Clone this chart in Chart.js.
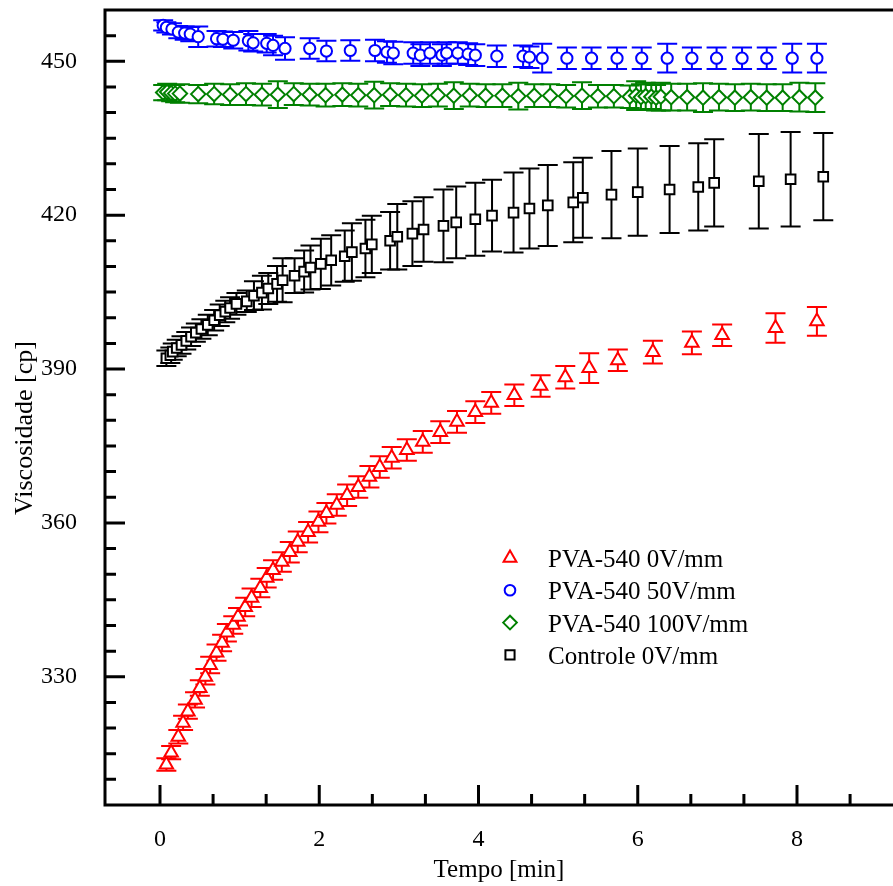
<!DOCTYPE html>
<html>
<head>
<meta charset="utf-8">
<script src="https://cdn.jsdelivr.net/npm/chart.js@4/dist/chart.umd.min.js"></script>
<style>
html,body{margin:0;padding:0;background:#fff;}
#wrap{width:893px;height:886px;position:relative;overflow:hidden;}
</style>
</head>
<body>
<div id="wrap"><canvas id="c" width="893" height="886"></canvas></div>
<script>
// ---------------- data ----------------
const seriesLabels = ['PVA-540 0V/mm', 'PVA-540 50V/mm', 'PVA-540 100V/mm', 'Controle 0V/mm'];
const xTitle = 'Tempo [min]';
const yTitle = 'Viscosidade [cp]';

const redX = [0.08,0.14,0.23,0.29,0.35,0.44,0.50,0.57,0.63,0.71,0.78,0.84,0.92,0.98,1.07,1.15,1.26,1.34,1.42,1.53,1.63,1.73,1.86,1.99,2.09,2.22,2.35,2.49,2.63,2.76,2.91,3.10,3.30,3.52,3.73,3.96,4.16,4.45,4.78,5.09,5.39,5.75,6.19,6.68,7.06,7.73,8.25];
const redY = [312.9,315.2,318.3,321.0,323.2,325.5,327.8,330.0,332.3,334.7,336.6,338.6,340.1,341.7,343.6,345.4,347.3,349.3,350.8,352.4,354.3,356.3,358.2,360.2,361.9,363.5,365.4,367.0,369.0,370.9,372.7,374.2,375.8,377.7,379.7,381.6,383.4,384.9,386.7,388.4,390.2,391.7,393.3,395.1,396.6,398.0,399.3];
const redErr = [1.2,1.3,1.3,1.4,1.4,1.5,1.5,1.5,1.6,1.6,1.6,1.7,1.7,1.7,1.8,1.8,1.8,1.9,1.9,1.9,2.0,2.0,2.0,2.0,2.0,2.1,2.1,2.1,2.1,2.1,2.1,2.1,2.1,2.1,2.1,2.1,2.1,2.1,2.1,2.2,2.9,2.1,2.2,2.2,2.1,2.9,2.8];

const blueX = [0.04,0.08,0.15,0.23,0.31,0.38,0.48,0.71,0.79,0.92,1.11,1.17,1.34,1.42,1.57,1.88,2.09,2.39,2.70,2.85,2.93,3.18,3.27,3.39,3.54,3.60,3.74,3.87,3.96,4.23,4.56,4.64,4.80,5.11,5.42,5.74,6.05,6.37,6.68,6.99,7.31,7.62,7.94,8.25];
const blueY = [457.0,456.6,456.3,455.7,455.5,455.3,454.8,454.4,454.3,454.1,454.0,453.6,453.5,453.1,452.5,452.5,452.0,452.1,452.1,451.8,451.6,451.6,451.2,451.6,451.2,451.6,451.6,451.4,451.2,451.0,451.0,450.8,450.6,450.6,450.6,450.6,450.6,450.6,450.6,450.6,450.6,450.6,450.6,450.6];
const blueErr = [1.0,1.0,1.1,1.2,1.3,1.4,2.0,1.5,1.5,1.6,1.9,1.7,1.8,1.9,2.2,2.0,2.0,2.0,2.1,2.1,2.2,2.1,2.1,2.1,2.1,2.1,2.1,2.1,2.1,2.1,2.1,2.1,2.8,2.1,2.1,2.1,2.1,2.8,2.1,2.1,2.1,2.1,2.8,2.8];

const greenX = [0.04,0.09,0.14,0.19,0.25,0.48,0.68,0.88,1.08,1.28,1.48,1.68,1.88,2.08,2.29,2.49,2.69,2.89,3.09,3.29,3.49,3.69,3.89,4.09,4.30,4.50,4.70,4.90,5.10,5.30,5.50,5.70,5.90,5.98,6.04,6.10,6.17,6.23,6.29,6.42,6.62,6.82,7.02,7.22,7.42,7.62,7.82,8.03,8.23];
const greenY = [443.9,444.0,443.8,443.7,443.7,443.6,443.6,443.5,443.6,443.5,443.5,443.6,443.5,443.4,443.5,443.4,443.4,443.5,443.4,443.3,443.4,443.3,443.4,443.3,443.3,443.2,443.3,443.3,443.2,443.3,443.2,443.2,443.1,443.3,443.0,443.2,443.1,442.9,443.1,443.0,443.0,442.9,443.0,442.9,443.0,442.9,442.9,443.0,442.9];
const greenErr = [1.5,1.6,1.6,1.7,1.8,1.8,2.0,2.0,2.1,2.1,2.6,2.1,2.1,2.2,2.2,2.2,2.6,2.2,2.2,2.2,2.2,2.6,2.2,2.2,2.2,2.6,2.2,2.2,2.2,2.6,2.2,2.2,2.2,2.8,2.5,2.6,2.4,2.5,2.7,2.6,2.6,2.8,2.6,2.6,2.6,2.6,2.6,2.8,2.8];

const blackX = [0.08,0.13,0.16,0.21,0.27,0.33,0.39,0.45,0.52,0.60,0.68,0.75,0.82,0.88,0.96,1.09,1.18,1.28,1.36,1.47,1.54,1.69,1.81,1.89,2.02,2.15,2.32,2.41,2.58,2.66,2.89,2.98,3.17,3.31,3.56,3.72,3.96,4.17,4.44,4.64,4.87,5.19,5.31,5.67,6.00,6.40,6.76,6.96,7.52,7.92,8.33];
const blackY = [392.1,392.7,393.4,394.1,394.7,395.5,396.3,397.1,397.8,398.6,399.5,400.5,401.2,401.9,402.7,403.2,404.3,404.9,405.7,406.6,407.3,408.2,409.0,409.8,410.5,411.2,412.0,412.8,413.5,414.3,415.0,415.8,416.4,417.2,417.9,418.6,419.2,419.9,420.5,421.3,421.9,422.5,423.4,424.0,424.5,425.0,425.5,426.3,426.6,427.0,427.5];
const blackErr = [1.5,1.5,1.6,1.6,1.7,1.7,1.8,1.8,1.9,2.0,2.0,2.1,2.1,2.1,2.1,2.1,2.8,3.3,3.0,3.5,4.3,3.4,4.1,4.3,4.9,4.9,5.0,5.6,5.6,5.6,5.6,6.4,6.3,6.3,7.1,7.0,7.1,7.0,7.8,7.8,7.9,7.8,7.8,8.5,8.5,8.5,8.5,8.5,9.2,9.2,8.5];

const xTickLabels = [0, 2, 4, 6, 8];
const yTickLabels = [330, 360, 390, 420, 450];
const xMinorStep = 2 / 3;
const yMinorStep = 5;

// ---------------- chart ----------------
const FONT = '"Liberation Serif", "Times New Roman", Times, serif';
Chart.defaults.font.family = FONT;
Chart.defaults.color = '#000';

function pts(xs, ys) { return xs.map((x, i) => ({ x: x, y: ys[i] })); }

function mkSet(label, xs, ys, errs, color, style, radius) {
  return {
    label: label, data: pts(xs, ys), errorBars: errs,
    pointStyle: style, pointRadius: radius, pointHoverRadius: radius,
    borderColor: color, backgroundColor: '#ffffff', pointBorderWidth: 2,
    borderWidth: 2, showLine: false
  };
}

const datasets = [
  mkSet(seriesLabels[0], redX, redY, redErr, '#ff0000', 'triangle', 7.8),
  mkSet(seriesLabels[1], blueX, blueY, blueErr, '#0000ff', 'circle', 5.6),
  mkSet(seriesLabels[2], greenX, greenY, greenErr, '#008000', 'rectRot', 7.2),
  mkSet(seriesLabels[3], blackX, blackY, blackErr, '#000000', 'rect', 6.8)
];

const errorBarPlugin = {
  id: 'errorBars',
  beforeDatasetsDraw(chart) {
    const ctx = chart.ctx, xs = chart.scales.x, ys = chart.scales.y;
    ctx.save();
    ctx.lineWidth = 2;
    chart.data.datasets.forEach(ds => {
      ctx.strokeStyle = ds.borderColor;
      ds.data.forEach((p, j) => {
        const e = ds.errorBars[j];
        const px = xs.getPixelForValue(p.x);
        const yT = ys.getPixelForValue(p.y + e);
        const yB = ys.getPixelForValue(p.y - e);
        ctx.beginPath();
        ctx.moveTo(px, yT); ctx.lineTo(px, yB);
        ctx.moveTo(px - 10, yT); ctx.lineTo(px + 10, yT);
        ctx.moveTo(px - 10, yB); ctx.lineTo(px + 10, yB);
        ctx.stroke();
      });
    });
    ctx.restore();
  }
};

const frameAxesPlugin = {
  id: 'frameAxes',
  afterDatasetsDraw(chart) {
    const ctx = chart.ctx, a = chart.chartArea, xs = chart.scales.x, ys = chart.scales.y;
    ctx.save();
    ctx.strokeStyle = '#000';
    ctx.lineWidth = 3;
    ctx.lineCap = 'butt';
    ctx.beginPath();
    ctx.moveTo(a.left, a.top - 1.5); ctx.lineTo(a.left, a.bottom + 1.5);
    ctx.moveTo(a.left - 1.5, a.bottom); ctx.lineTo(a.right, a.bottom);
    ctx.moveTo(a.left - 1.5, a.top); ctx.lineTo(a.right, a.top);
    ctx.stroke();
    // x ticks (inward)
    ctx.beginPath();
    const kx0 = Math.ceil(0 / xMinorStep), kx1 = Math.floor(xs.max / xMinorStep);
    for (let k = kx0; k <= kx1; k++) {
      const v = k * xMinorStep;
      const major = xTickLabels.some(t => Math.abs(t - v) < 1e-6) || k % 3 === 0;
      const px = xs.getPixelForValue(v);
      ctx.moveTo(px, a.bottom); ctx.lineTo(px, a.bottom - (major ? 20 : 11));
    }
    // y ticks (inward)
    for (let v = Math.ceil(ys.min / yMinorStep) * yMinorStep; v < ys.max; v += yMinorStep) {
      if (v <= ys.min) continue;
      const major = yTickLabels.indexOf(v) >= 0;
      const py = ys.getPixelForValue(v);
      ctx.moveTo(a.left, py); ctx.lineTo(a.left + (major ? 20 : 11), py);
    }
    ctx.stroke();
    // y axis title
    ctx.save();
    ctx.font = '26px ' + FONT;
    ctx.fillStyle = '#000';
    ctx.textAlign = 'center';
    ctx.textBaseline = 'middle';
    ctx.translate(25, 428);
    ctx.rotate(-Math.PI / 2);
    ctx.fillText(yTitle, 0, 0);
    ctx.restore();
    ctx.restore();
  }
};

const legendPlugin = {
  id: 'innerLegend',
  afterDraw(chart) {
    const ctx = chart.ctx;
    ctx.save();
    ctx.font = '25px ' + FONT;
    ctx.textBaseline = 'alphabetic';
    ctx.textAlign = 'left';
    chart.data.datasets.forEach((ds, i) => {
      const base = 567 + i * 32.3;
      const my = base - 9;
      ctx.strokeStyle = ds.borderColor;
      ctx.fillStyle = '#ffffff';
      ctx.lineWidth = 2;
      Chart.helpers.drawPoint(ctx, { pointStyle: ds.pointStyle, radius: ds.pointRadius * 0.95, rotation: 0, borderWidth: 2 }, 510, my);
      ctx.fillStyle = '#000';
      ctx.fillText(ds.label, 548, base);
    });
    ctx.restore();
  }
};

function zeroPad(s) { s.paddingTop = 0; s.paddingBottom = 0; s.paddingLeft = 0; s.paddingRight = 0; }

new Chart(document.getElementById('c'), {
  type: 'scatter',
  data: { datasets: datasets },
  options: {
    responsive: false,
    animation: false,
    events: [],
    layout: { autoPadding: false, padding: { top: 10, right: 0, left: 0, bottom: 0 } },
    plugins: { legend: { display: false }, tooltip: { enabled: false } },
    scales: {
      x: {
        type: 'linear', min: -0.6907, max: 9.2057,
        grid: { display: false, drawTicks: false },
        border: { display: false },
        afterBuildTicks: s => { s.ticks = xTickLabels.map(v => ({ value: v })); },
        afterFit: s => { s.height = 81; zeroPad(s); },
        ticks: { autoSkip: false, maxRotation: 0, padding: 20, font: { size: 24 } },
        title: { display: true, text: xTitle, font: { size: 25 }, padding: { top: 0, bottom: 1 } }
      },
      y: {
        type: 'linear', min: 305, max: 460,
        grid: { display: false, drawTicks: false },
        border: { display: false },
        afterBuildTicks: s => { s.ticks = yTickLabels.map(v => ({ value: v })); },
        afterFit: s => { s.width = 105; zeroPad(s); },
        ticks: { autoSkip: false, padding: 28, font: { size: 24 } },
        title: { display: false }
      }
    }
  },
  plugins: [errorBarPlugin, frameAxesPlugin, legendPlugin]
});
</script>
</body>
</html>
